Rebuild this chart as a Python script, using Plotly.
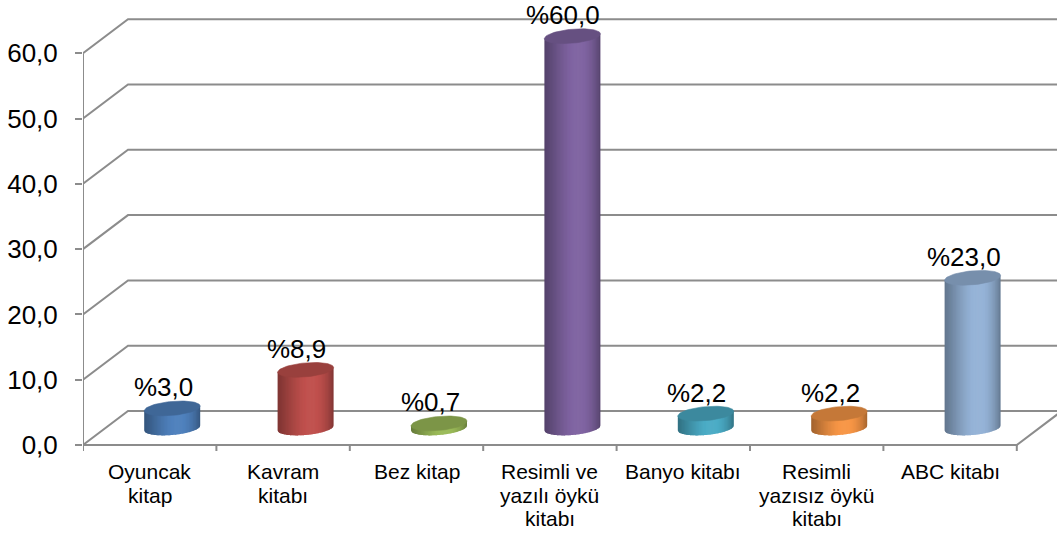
import numpy as np
import plotly.graph_objects as go

# ---------------- data ----------------
category_lines = [
    ["Oyuncak", "kitap"],
    ["Kavram", "kitabı"],
    ["Bez kitap"],
    ["Resimli ve", "yazılı öykü", "kitabı"],
    ["Banyo kitabı"],
    ["Resimli", "yazısız öykü", "kitabı"],
    ["ABC kitabı"],
]
values = [3.0, 8.9, 0.7, 60.0, 2.2, 2.2, 23.0]
value_labels = ["%3,0", "%8,9", "%0,7", "%60,0", "%2,2", "%2,2", "%23,0"]
bar_colors = ["#4F81BD", "#C0504D", "#9BBB59", "#8064A2", "#4BACC6", "#F79646", "#95B3D7"]
y_tick_values = [0, 10, 20, 30, 40, 50, 60]
y_tick_labels = ["0,0", "10,0", "20,0", "30,0", "40,0", "50,0", "60,0"]

# ---------------- geometry (pixel scale of the 3D frame) ----------------
W, H = 1057, 536
LEFT = 83
BASE_PX = 445
PX_X = 133.4        # pixels per category
PX_Y = 6.53         # pixels per value unit
DX = 45 / PX_X      # depth offset (x)
DY = 34 / PX_Y      # depth offset (y)
Y0 = DY / 2         # bar baseline (middle of depth)
R_PX, H_PX, SHEAR = 28, 7, 0.085
N_STRIPS = 40
GRID = "#8C8C8C"
FONT = "Liberation Sans, Arial, sans-serif"

n = len(values)
x_range = [-0.5, -0.5 + (W - LEFT) / PX_X]
y_range = [-(H - BASE_PX) / PX_Y, BASE_PX / PX_Y]


def shade(hexc, f):
    c = np.array([int(hexc[i:i + 2], 16) for i in (1, 3, 5)], dtype=float)
    if f <= 1:
        c = c * f
    else:
        c = c + (255 - c) * (f - 1)
    c = np.clip(c, 0, 255).astype(int)
    return "rgb(%d,%d,%d)" % tuple(c)


fig = go.Figure()

# walls / gridlines
for v in y_tick_values:
    fig.add_trace(go.Scatter(x=[-0.5, -0.5 + DX, n + 1], y=[v, v + DY, v + DY], mode="lines",
                             line=dict(color=GRID, width=2), hoverinfo="skip"))
# floor front edge and right side
fig.add_trace(go.Scatter(x=[-0.5, n - 0.5, n - 0.5 + DX], y=[0, 0, DY], mode="lines",
                         line=dict(color=GRID, width=2), hoverinfo="skip"))
# front value axis line
fig.add_trace(go.Scatter(x=[-0.5, -0.5], y=[0, max(y_tick_values)], mode="lines",
                         line=dict(color=GRID, width=2), hoverinfo="skip"))
# category tick marks
for b in np.arange(-0.5, n, 1.0):
    fig.add_trace(go.Scatter(x=[b, b], y=[0, -6 / PX_Y], mode="lines",
                             line=dict(color=GRID, width=2), hoverinfo="skip"))

# cylinders
us = np.linspace(-R_PX, R_PX, N_STRIPS + 1)
for i, (v, col) in enumerate(zip(values, bar_colors)):
    xc = i + DX / 2
    for k in range(N_STRIPS):
        u0 = us[k]
        u1 = min(us[k + 1] + 0.8, R_PX)
        p = ((us[k] + us[k + 1]) / 2 + R_PX) / (2 * R_PX)
        q = p ** 1.357
        f = 0.66 + 0.36 * np.sin(np.pi * q) ** 0.8
        uu = np.linspace(u0, u1, 4)
        xs = list(xc + uu / PX_X) + list(xc + uu[::-1] / PX_X)
        top = Y0 + v + SHEAR * uu / PX_Y
        bot = Y0 - H_PX * np.sqrt(np.clip(1 - (uu[::-1] / R_PX) ** 2, 0, 1)) / PX_Y + SHEAR * uu[::-1] / PX_Y
        ys = list(top) + list(bot)
        c = shade(col, f)
        fig.add_trace(go.Scatter(x=xs + [xs[0]], y=ys + [ys[0]], mode="none", fill="toself",
                                 fillcolor=c, hoverinfo="skip"))
    t = np.linspace(0, 2 * np.pi, 80)
    ex = xc + R_PX * np.cos(t) / PX_X
    ey = Y0 + v + (H_PX * np.sin(t) + SHEAR * R_PX * np.cos(t)) / PX_Y
    ctop = shade(col, 0.8)
    fig.add_trace(go.Scatter(x=ex, y=ey, mode="lines", fill="toself", fillcolor=ctop,
                             line=dict(color=ctop, width=0.6), hoverinfo="skip"))
    fig.add_annotation(x=xc, y=Y0 + v, text=value_labels[i], showarrow=False, xshift=-9,
                       yshift=H_PX - 3, yanchor="bottom", xanchor="center",
                       font=dict(family=FONT, size=26, color="black"))

# category labels
for i, lines in enumerate(category_lines):
    for j, line in enumerate(lines):
        fig.add_annotation(x=i, y=0, text=line, showarrow=False, yanchor="middle", xanchor="center",
                           yshift=-(26.5 + 23.5 * j), font=dict(family=FONT, size=21, color="black"))

fig.update_layout(
    width=W, height=H, margin=dict(l=LEFT, r=0, t=0, b=0),
    paper_bgcolor="white", plot_bgcolor="white", showlegend=False,
    xaxis=dict(range=x_range, visible=False, fixedrange=True),
    yaxis=dict(range=y_range, tickvals=y_tick_values, ticktext=y_tick_labels, showgrid=False,
               zeroline=False, showline=False, ticks="outside", ticklen=7, tickwidth=2,
               tickcolor=GRID, tickfont=dict(family=FONT, size=26, color="black"),
               ticklabelstandoff=12, automargin=False, fixedrange=True),
)

fig.write_html("out.html", config={"displayModeBar": False},
               post_script="document.body.style.margin='0';document.body.style.overflow='hidden';")
